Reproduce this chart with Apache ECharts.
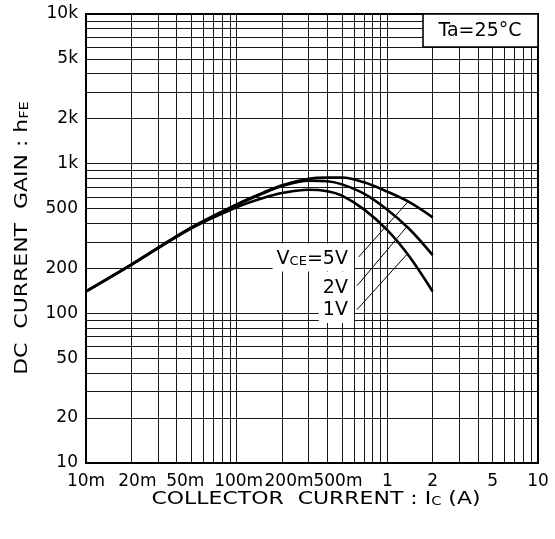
<!DOCTYPE html>
<html>
<head>
<meta charset="utf-8">
<script src="https://cdn.jsdelivr.net/npm/echarts@6/dist/echarts.min.js"></script>
<style>
html,body{margin:0;padding:0;background:#fff;}
#chart{width:555px;height:539px;}
</style>
</head>
<body>
<div id="chart"></div>
<script>
// ---- data ----
var current = [0.01, 0.02, 0.05, 0.1, 0.15, 0.2, 0.3, 0.4, 0.5, 0.7, 1, 1.4, 2];
var gain5V  = [140, 212, 375, 535, 640, 718, 792, 808, 808, 750, 650, 553, 438];
var gain2V  = [140, 212, 373, 530, 634, 708, 770, 763, 727, 630, 492, 366, 245];
var gain1V  = [140, 211, 370, 512, 590, 636, 670, 655, 612, 495, 360, 240, 140];

var xTickValues = [0.01, 0.02, 0.05, 0.1, 0.2, 0.5, 1, 2, 5, 10];
var xTickLabels = ['10m', '20m', '50m', '100m', '200m', '500m', '1', '2', '5', '10'];
var yTickValues = [10, 20, 50, 100, 200, 500, 1000, 2000, 5000, 10000];
var yTickLabels = ['10', '20', '50', '100', '200', '500', '1k', '2k', '5k', '10k'];

// annotation anchors (data coordinates)
var curveLabels = [
  {text: '{a|V}{b|CE}{a|=5V}', at: [0.6, 236]},
  {text: '{a|2V}', at: [0.6, 152]},
  {text: '{a|1V}', at: [0.6, 107]}
];
var leaders = [
  [[0.645, 238], [1.37, 556]],
  [[0.63, 153], [1.35, 380]],
  [[0.63, 106], [1.35, 248]]
];

// ---- layout-only style: small horizontal nudges of crowded x labels (px) ----
var xLabelNudge = {'20m': 6, '50m': -6, '100m': 2, '200m': 7, '500m': -4};

// ---- helpers ----
function pairs(xs, ys) { return xs.map(function (x, i) { return [x, ys[i]]; }); }
function findLabel(values, labels, v) {
  for (var i = 0; i < values.length; i++) {
    if (Math.abs(Math.log10(v) - Math.log10(values[i])) < 1e-6) return labels[i];
  }
  return '';
}
function logGrid(lo, hi) {
  var out = [];
  for (var d = lo; d < hi * 0.999; d *= 10) {
    for (var m = 1; m <= 9; m++) out.push(+(d * m).toPrecision(6));
  }
  out.push(hi);
  return out;
}
var FONT = 'DejaVu Sans';

var xRich = {};
Object.keys(xLabelNudge).forEach(function (k, i) {
  var n = xLabelNudge[k];
  xRich['n' + i] = {fontSize: 17, fontFamily: FONT, color: '#000',
                    padding: n > 0 ? [0, 0, 0, 2 * n] : [0, -2 * n, 0, 0]};
});
function xFormatter(v) {
  var t = findLabel(xTickValues, xTickLabels, v);
  var keys = Object.keys(xLabelNudge);
  var idx = keys.indexOf(t);
  return idx >= 0 ? '{n' + idx + '|' + t + '}' : t;
}

var gridLineData = [];
logGrid(0.01, 10).forEach(function (v) { gridLineData.push({xAxis: v}); });
logGrid(10, 10000).forEach(function (v) { gridLineData.push({yAxis: v}); });

var chart = echarts.init(document.getElementById('chart'), null, {renderer: 'canvas'});

var curveSeries = function (name, ys) {
  return {
    name: name, type: 'line', data: pairs(current, ys), smooth: 0.35,
    showSymbol: false, symbol: 'none', z: 5,
    lineStyle: {color: '#000', width: 2.6}, silent: true
  };
};

chart.setOption({
  animation: false,
  backgroundColor: '#fff',
  textStyle: {fontFamily: FONT, color: '#000'},
  grid: {left: 86, right: 17, top: 14, bottom: 76, show: true,
         borderColor: '#000', borderWidth: 2, backgroundColor: '#fff'},
  xAxis: {
    type: 'log', logBase: 10, min: 0.01, max: 10,
    axisLine: {show: false}, axisTick: {show: false}, splitLine: {show: false},
    axisLabel: {customValues: xTickValues, formatter: xFormatter, rich: xRich,
                fontSize: 17, color: '#000', fontFamily: FONT, margin: 10, showMinLabel: true, showMaxLabel: true}
  },
  yAxis: {
    type: 'log', logBase: 10, min: 10, max: 10000,
    axisLine: {show: false}, axisTick: {show: false}, splitLine: {show: false},
    axisLabel: {customValues: yTickValues,
                formatter: function (v) { return findLabel(yTickValues, yTickLabels, v); },
                fontSize: 17, color: '#000', fontFamily: FONT, margin: 8, showMinLabel: true, showMaxLabel: true}
  },
  series: [
    {
      name: 'grid', type: 'line', data: [], z: 1, silent: true,
      markLine: {
        silent: true, symbol: ['none', 'none'], animation: false,
        label: {show: false},
        lineStyle: {color: '#000', width: 1, type: 'solid', opacity: 0.9},
        data: gridLineData
      }
    },
    curveSeries('VCE=5V', gain5V),
    curveSeries('VCE=2V', gain2V),
    curveSeries('VCE=1V', gain1V),
    {
      name: 'notes', type: 'line', data: [], z: 6, silent: true,
      markLine: {
        silent: true, symbol: ['none', 'none'], animation: false,
        label: {show: false},
        lineStyle: {color: '#000', width: 1, type: 'solid'},
        data: leaders.map(function (l) { return [{coord: l[0]}, {coord: l[1]}]; })
      },
      markPoint: {
        silent: true, animation: false, symbol: 'rect', symbolSize: 0,
        data: curveLabels.map(function (c) {
          return {
            coord: c.at,
            label: {
              show: true, position: 'inside', align: 'right', verticalAlign: 'middle',
              formatter: c.text, backgroundColor: '#fff', padding: [3, 6, 3, 4],
              rich: {
                a: {fontSize: 19, fontFamily: FONT, color: '#000', verticalAlign: 'bottom', lineHeight: 22},
                b: {fontSize: 13, fontFamily: FONT, color: '#000', verticalAlign: 'bottom', lineHeight: 22}
              }
            }
          };
        })
      }
    }
  ],
  graphic: [
    {
      type: 'rect', z: 20, shape: {x: 423, y: 14, width: 115, height: 33},
      style: {fill: '#fff', stroke: '#000', lineWidth: 1.6}
    },
    {
      type: 'text', z: 21, x: 480, y: 31,
      style: {text: 'Ta=25°C', font: '19px "DejaVu Sans"', fill: '#000',
              textAlign: 'center', textVerticalAlign: 'middle'}
    },
    {
      type: 'text', z: 21, x: 316, y: 497, scaleX: 1.22,
      style: {
        text: '{n|COLLECTOR  CURRENT : I}{s|C}{n| (A)}', fill: '#000',
        textAlign: 'center', textVerticalAlign: 'middle',
        rich: {
          n: {fontSize: 18, fontFamily: FONT, fill: '#000', verticalAlign: 'bottom', lineHeight: 22},
          s: {fontSize: 12, fontFamily: FONT, fill: '#000', verticalAlign: 'bottom', lineHeight: 22}
        }
      }
    },
    {
      type: 'text', z: 21, x: 20, y: 238, rotation: Math.PI / 2, scaleX: 1.22,
      style: {
        text: '{n|DC  CURRENT  GAIN : h}{s|FE}', fill: '#000',
        textAlign: 'center', textVerticalAlign: 'middle',
        rich: {
          n: {fontSize: 18, fontFamily: FONT, fill: '#000', verticalAlign: 'bottom', lineHeight: 22},
          s: {fontSize: 12, fontFamily: FONT, fill: '#000', verticalAlign: 'bottom', lineHeight: 22}
        }
      }
    }
  ]
});
</script>
</body>
</html>
